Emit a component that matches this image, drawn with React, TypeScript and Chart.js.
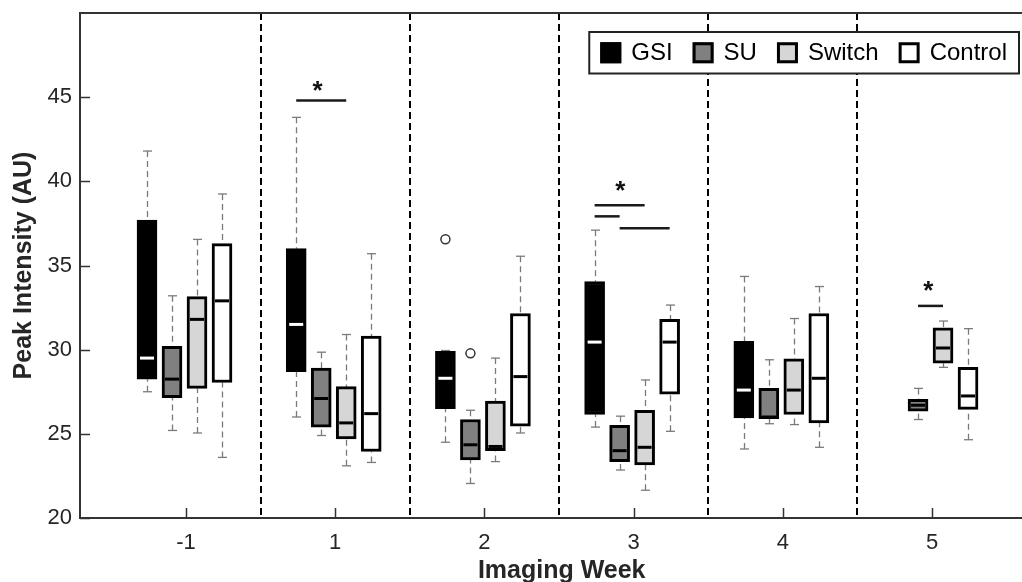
import React, { useEffect, useRef } from 'react';
import { Chart, registerables } from 'chart.js';

Chart.register(...registerables);

// ---------- data ----------
const weekLabels = ['-1', '1', '2', '3', '4', '5'];
const seriesNames = ['GSI', 'SU', 'Switch', 'Control'];
const seriesFill = ['#000000', '#808080', '#d6d6d6', '#ffffff'];
const medianColors = ['#ffffff', '#000000', '#000000', '#000000'];
const yTickValues = [20, 25, 30, 35, 40, 45];

// [lower whisker, Q1, median, Q3, upper whisker] per imaging week (null = no data)
const gsiStats = [
  [27.5, 28.25, 29.5, 37.7, 41.8],
  [26.0, 28.7, 31.5, 36.0, 43.8],
  [24.5, 26.5, 28.3, 29.9, 29.95],
  [25.4, 26.15, 30.45, 34.05, 37.1],
  [24.1, 25.95, 27.6, 30.5, 34.35],
  null,
];
const suStats = [
  [25.2, 27.15, 28.25, 30.2, 33.2],
  [24.9, 25.4, 27.1, 28.9, 29.85],
  [22.05, 23.45, 24.35, 25.85, 26.4],
  [22.85, 23.35, 24.0, 25.5, 26.05],
  [25.6, 25.9, 26.0, 27.7, 29.4],
  [25.85, 26.35, 26.7, 27.05, 27.7],
];
const switchStats = [
  [25.05, 27.7, 31.8, 33.15, 36.55],
  [23.1, 24.7, 25.65, 27.8, 30.9],
  [23.35, 24.0, 24.25, 26.95, 29.5],
  [21.65, 23.15, 24.2, 26.4, 28.2],
  [25.55, 26.15, 27.6, 29.45, 31.85],
  [28.95, 29.2, 30.1, 31.3, 31.7],
];
const controlStats = [
  [23.6, 28.05, 32.9, 36.3, 39.25],
  [23.3, 23.95, 26.2, 30.8, 35.7],
  [25.05, 25.45, 28.4, 32.15, 35.55],
  [25.15, 27.35, 30.45, 31.8, 32.65],
  [24.2, 25.65, 28.3, 32.15, 33.75],
  [24.65, 26.45, 27.25, 28.95, 31.25],
];

// outliers: week index and value
const gsiOutlierWeeks = [2];
const gsiOutlierValues = [36.56];
const suOutlierWeeks = [2];
const suOutlierValues = [29.78];

// significance bars: week index, from-series, to-series, level
const sigWeeks = [1, 3, 3, 3, 5];
const sigFrom = [0, 0, 0, 1, 1];
const sigTo = [2, 2, 1, 3, 2];
const sigLevels = [44.8, 38.58, 37.92, 37.22, 32.6];
// asterisks
const starX = [1.881, 3.911, 5.975];
const starY = [45.8, 39.86, 33.92];

// ---------- layout constants ----------
const allStats = [gsiStats, suStats, switchStats, controlStats];
const seriesOffsets = [-0.2614, -0.0938, 0.0737, 0.2413];
const BOX_W = 20;
const FONT = '"Liberation Sans", Arial, Helvetica, sans-serif';
const AXIS_COLOR = '#333333';
const TEXT_COLOR = '#262626';

function line(ctx: CanvasRenderingContext2D, x1: number, y1: number, x2: number, y2: number) {
  ctx.beginPath();
  ctx.moveTo(x1, y1);
  ctx.lineTo(x2, y2);
  ctx.stroke();
}

const extrasPlugin = {
  id: 'boxExtras',
  beforeDatasetsDraw(chart: any) {
    const { ctx, chartArea } = chart;
    const xs = chart.scales.x;
    const ys = chart.scales.y;
    ctx.save();
    // dashed separators between weeks
    ctx.strokeStyle = '#000';
    ctx.lineWidth = 2;
    ctx.setLineDash([7, 4]);
    for (let i = 1; i < weekLabels.length; i++) {
      const px = Math.round(xs.getPixelForValue(i + 0.5));
      line(ctx, px, chartArea.top, px, chartArea.bottom);
    }
    // whiskers
    allStats.forEach((stats, s) => {
      stats.forEach((st, w) => {
        if (!st) return;
        const cx = Math.round(xs.getPixelForValue(w + 1 + seriesOffsets[s])) + 0.5;
        const [lo, q1, , q3, hi] = st;
        ctx.strokeStyle = '#7a7a7a';
        ctx.lineWidth = 1.3;
        ctx.setLineDash([6, 4]);
        line(ctx, cx, ys.getPixelForValue(hi), cx, ys.getPixelForValue(q3));
        line(ctx, cx, ys.getPixelForValue(lo), cx, ys.getPixelForValue(q1));
        ctx.setLineDash([]);
        line(ctx, cx - 4.5, ys.getPixelForValue(hi), cx + 4.5, ys.getPixelForValue(hi));
        line(ctx, cx - 4.5, ys.getPixelForValue(lo), cx + 4.5, ys.getPixelForValue(lo));
      });
    });
    ctx.restore();
  },
  afterDatasetsDraw(chart: any) {
    const { ctx, chartArea } = chart;
    const xs = chart.scales.x;
    const ys = chart.scales.y;
    ctx.save();
    // medians
    ctx.setLineDash([]);
    allStats.forEach((stats, s) => {
      stats.forEach((st, w) => {
        if (!st) return;
        const cx = xs.getPixelForValue(w + 1 + seriesOffsets[s]);
        const my = ys.getPixelForValue(st[2]);
        ctx.strokeStyle = medianColors[s];
        ctx.lineWidth = 3;
        line(ctx, cx - BOX_W / 2 + 3, my, cx + BOX_W / 2 - 3, my);
      });
    });
    // significance bars
    ctx.strokeStyle = '#1a1a1a';
    ctx.lineWidth = 2.5;
    sigWeeks.forEach((w, i) => {
      const x1 = xs.getPixelForValue(w + 1 + seriesOffsets[sigFrom[i]]);
      const x2 = xs.getPixelForValue(w + 1 + seriesOffsets[sigTo[i]]);
      const yy = ys.getPixelForValue(sigLevels[i]);
      line(ctx, x1, yy, x2, yy);
    });
    ctx.fillStyle = '#111';
    ctx.font = `bold 26px ${FONT}`;
    ctx.textAlign = 'center';
    ctx.textBaseline = 'alphabetic';
    starX.forEach((sx, i) => {
      ctx.fillText('*', xs.getPixelForValue(sx), ys.getPixelForValue(starY[i]) + 0.57 * 26);
    });
    // inward tick marks
    ctx.strokeStyle = AXIS_COLOR;
    ctx.lineWidth = 1.5;
    yTickValues.forEach((v) => {
      const py = Math.round(ys.getPixelForValue(v)) + 0.5;
      line(ctx, chartArea.left, py, chartArea.left + 10, py);
    });
    weekLabels.forEach((_, i) => {
      const px = Math.round(xs.getPixelForValue(i + 1)) + 0.5;
      line(ctx, px, chartArea.bottom, px, chartArea.bottom - 10);
    });
    // top border
    ctx.lineWidth = 2;
    line(ctx, chartArea.left, chartArea.top, chartArea.right, chartArea.top);

    // legend
    ctx.font = `24px ${FONT}`;
    const widths = seriesNames.map((n) => ctx.measureText(n).width);
    const padL = 11, padR = 12, sq = 21, sqGap = 10, itemGap = 20;
    const total = padL + padR + widths.reduce((a, b) => a + b, 0) + seriesNames.length * (sq + sqGap) + (seriesNames.length - 1) * itemGap;
    const lRight = chartArea.right - 3;
    const lLeft = lRight - total;
    const lTop = chartArea.top + 19;
    const lBottom = chartArea.top + 60.5;
    ctx.fillStyle = '#fff';
    ctx.fillRect(lLeft, lTop, lRight - lLeft, lBottom - lTop);
    ctx.strokeStyle = '#222';
    ctx.lineWidth = 2;
    ctx.strokeRect(lLeft, lTop, lRight - lLeft, lBottom - lTop);
    const cy = (lTop + lBottom) / 2;
    let cx = lLeft + padL;
    seriesNames.forEach((n, i) => {
      ctx.fillStyle = seriesFill[i];
      ctx.fillRect(cx, cy - sq / 2, sq, sq);
      ctx.strokeStyle = '#000';
      ctx.lineWidth = 3;
      ctx.strokeRect(cx + 1.5, cy - sq / 2 + 1.5, sq - 3, sq - 3);
      cx += sq + sqGap;
      ctx.fillStyle = '#000';
      ctx.textAlign = 'left';
      ctx.textBaseline = 'middle';
      ctx.fillText(n, cx, cy + 1);
      cx += widths[i] + itemGap;
    });

    // axis titles
    ctx.fillStyle = TEXT_COLOR;
    ctx.font = `bold 25px ${FONT}`;
    ctx.textAlign = 'center';
    ctx.textBaseline = 'alphabetic';
    ctx.fillText('Imaging Week', xs.getPixelForValue(3.518), 578);
    ctx.save();
    ctx.translate(31, (chartArea.top + chartArea.bottom) / 2);
    ctx.rotate(-Math.PI / 2);
    ctx.fillText('Peak Intensity (AU)', 0, 0);
    ctx.restore();

    ctx.restore();
  },
};

function buildDatasets() {
  const bars = allStats.map((stats, s) => ({
    type: 'bar' as const,
    label: seriesNames[s],
    data: stats
      .map((st, w) => (st ? { x: w + 1 + seriesOffsets[s], y: [st[1], st[3]] } : null))
      .filter((d) => d !== null),
    backgroundColor: seriesFill[s],
    borderColor: '#000000',
    borderWidth: 3,
    borderSkipped: false,
    barThickness: BOX_W,
    grouped: false,
  }));
  const outliers = [
    ...gsiOutlierWeeks.map((w, i) => ({ x: w + 1 + seriesOffsets[0], y: gsiOutlierValues[i] })),
    ...suOutlierWeeks.map((w, i) => ({ x: w + 1 + seriesOffsets[1], y: suOutlierValues[i] })),
  ];
  return [
    ...bars,
    {
      type: 'scatter' as const,
      label: 'outliers',
      data: outliers,
      pointRadius: 4.5,
      pointBackgroundColor: '#ffffff',
      pointBorderColor: '#333333',
      pointBorderWidth: 1.5,
    },
  ];
}

export default function App() {
  const ref = useRef<HTMLCanvasElement>(null);
  useEffect(() => {
    if (!ref.current) return;
    const chart = new Chart(ref.current, {
      type: 'bar',
      data: { datasets: buildDatasets() as any },
      options: {
        animation: false,
        responsive: false,
        devicePixelRatio: 1,
        events: [],
        layout: { autoPadding: false, padding: { top: 13, right: 0, left: 0, bottom: 0 } },
        plugins: { legend: { display: false }, tooltip: { enabled: false } },
        scales: {
          x: {
            type: 'linear',
            min: 0.2895,
            max: 6.603,
            offset: false,
            afterBuildTicks: (scale: any) => {
              scale.ticks = weekLabels.map((_, i) => ({ value: i + 1 }));
            },
            afterFit: (scale: any) => {
              scale.height = 64;
              scale.paddingLeft = 0;
              scale.paddingRight = 0;
            },
            ticks: {
              autoSkip: false,
              maxRotation: 0,
              padding: 12,
              color: TEXT_COLOR,
              font: { family: FONT, size: 22 },
              callback: (v: any) => weekLabels[Math.round(v) - 1] ?? '',
            },
            grid: { display: false, drawTicks: false },
            border: { display: true, color: AXIS_COLOR, width: 2 },
          },
          y: {
            type: 'linear',
            min: 20,
            max: 50,
            afterBuildTicks: (scale: any) => {
              scale.ticks = yTickValues.map((v) => ({ value: v }));
            },
            afterFit: (scale: any) => {
              scale.width = 80;
              scale.paddingTop = 0;
              scale.paddingBottom = 0;
            },
            ticks: {
              padding: 8,
              color: TEXT_COLOR,
              font: { family: FONT, size: 22 },
            },
            grid: { display: false, drawTicks: false },
            border: { display: true, color: AXIS_COLOR, width: 2 },
          },
        },
      },
      plugins: [extrasPlugin],
    });
    return () => chart.destroy();
  }, []);
  return (
    <div style={{ position: 'fixed', left: 0, top: 0, width: 1022, height: 582, background: '#ffffff' }}>
      <canvas ref={ref} width={1022} height={582} style={{ display: 'block', width: 1022, height: 582 }} />
    </div>
  );
}
